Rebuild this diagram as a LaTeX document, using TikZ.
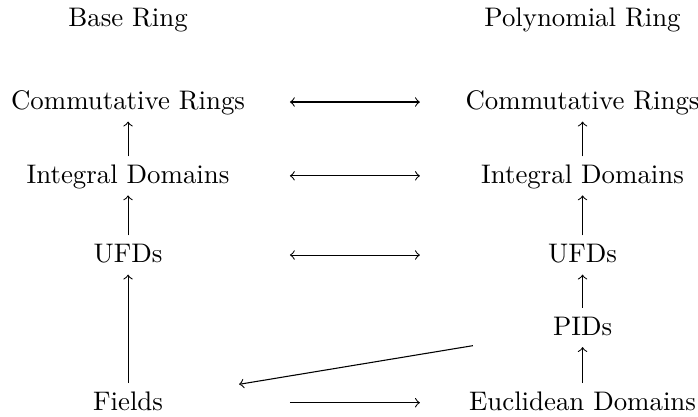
\documentclass[tikz,border=0pt]{standalone}
\usepackage{amsmath}
\usepackage{amssymb}
\usetikzlibrary{calc}

\begin{document}
\begin{tikzpicture}[x=1pt,y=1pt,
    ring/.style={inner sep=3pt,text height=1.6ex,text depth=.3ex}]
      \useasboundingbox (0,0) rectangle (260,-155);
      \node (base) at (47.7,-7.4) {Base Ring};
      \node (poly) at (217,-7.4) {Polynomial Ring};
      \node[ring] (cr1) at (47.7,-38) {Commutative Rings};
      \node[ring] (id1) at (47.7,-65.5) {Integral Domains};
      \node[ring] (ufd1) at (47.7,-95) {UFDs};
      \node[ring] (fld) at (47.7,-150) {Fields};
      \node[ring] (cr2) at (217,-38) {Commutative Rings};
      \node[ring] (id2) at (217,-65.5) {Integral Domains};
      \node[ring] (ufd2) at (217,-95) {UFDs};
      \node[ring] (pid) at (217,-122) {PIDs};
      \node[ring] (ed) at (217,-150) {Euclidean Domains};
      \coordinate (la) at (108,0);
      \coordinate (ra) at (156.4,0);
      % vertical inclusions
      \draw[->] (id1) -- (cr1);
      \draw[->] (ufd1) -- (id1);
      \draw[->] (fld) -- (ufd1);
      \draw[->] (id2) -- (cr2);
      \draw[->] (ufd2) -- (id2);
      \draw[->] (pid) -- (ufd2);
      \draw[->] (ed) -- (pid);
      % across
      \draw[<->] (cr1 -| la) -- (cr2 -| ra);
      \draw[<->] (id1 -| la) -- (id2 -| ra);
      \draw[<->] (ufd1 -| la) -- (ufd2 -| ra);
      \draw[->] (fld -| la) -- (ed -| ra);
      \draw[->,shorten <=27pt,shorten >=25.5pt] (pid) -- (fld);
\end{tikzpicture}
\end{document}
